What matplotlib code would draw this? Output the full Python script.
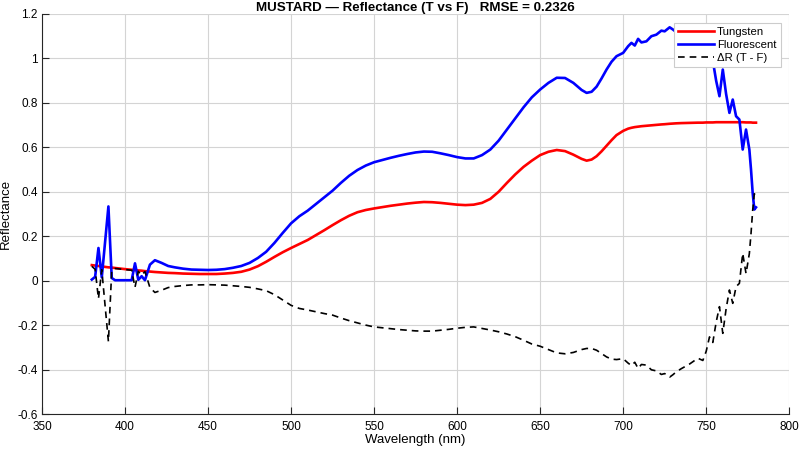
import numpy as np
import matplotlib
matplotlib.use('Agg')
import matplotlib.pyplot as plt
from matplotlib.ticker import FuncFormatter

plt.rcParams['font.family'] = ['Liberation Sans', 'DejaVu Sans']

# wavelength grid (nm) shared by both illuminants
wl = [380, 382, 384, 386, 390, 392, 394, 400, 404, 406, 408, 410, 412, 415, 418,
      422, 426, 430, 435, 440, 445, 450, 455, 460, 465, 470, 475, 480, 485, 490,
      495, 500, 505, 510, 515, 520, 525, 530, 535, 540, 545, 550, 555, 560, 565,
      570, 575, 580, 585, 590, 595, 600, 605, 610, 615, 620, 625, 630, 635, 640,
      645, 650, 655, 660, 665, 670, 675, 678, 681, 684, 687, 690, 693, 696, 700,
      703, 705, 707, 709, 711, 714, 717, 720, 723, 725, 728, 730, 732, 735, 740,
      745, 748, 750, 752, 754, 756, 758, 760, 762, 764, 766, 768, 770, 772, 774,
      776, 777, 778, 779, 780]

# Tungsten reflectance
tungsten = [0.070, 0.068, 0.066, 0.064, 0.060, 0.059, 0.057, 0.052, 0.049, 0.048,
            0.046, 0.045, 0.043, 0.041, 0.039, 0.037, 0.035, 0.034, 0.032, 0.031,
            0.030, 0.030, 0.030, 0.032, 0.035, 0.040, 0.050, 0.065, 0.085, 0.107,
            0.128, 0.147, 0.165, 0.183, 0.205, 0.227, 0.250, 0.272, 0.292, 0.308,
            0.318, 0.325, 0.331, 0.337, 0.342, 0.347, 0.351, 0.354, 0.353, 0.350,
            0.346, 0.342, 0.340, 0.342, 0.350, 0.368, 0.400, 0.440, 0.478, 0.512,
            0.540, 0.565, 0.580, 0.588, 0.583, 0.567, 0.548, 0.540, 0.545, 0.560,
            0.582, 0.607, 0.632, 0.655, 0.674, 0.684, 0.688, 0.691, 0.693, 0.695,
            0.697, 0.699, 0.701, 0.703, 0.704, 0.706, 0.707, 0.708, 0.709, 0.710,
            0.711, 0.711, 0.712, 0.712, 0.712, 0.713, 0.713, 0.713, 0.713, 0.713,
            0.713, 0.713, 0.713, 0.713, 0.712, 0.712, 0.712, 0.711, 0.711, 0.711]

# Fluorescent reflectance
fluorescent = [0.005, 0.017, 0.147, 0.015, 0.334, 0.012, 0.002, 0.002, 0.002, 0.078,
               0.004, 0.020, 0.002, 0.072, 0.092, 0.080, 0.066, 0.060, 0.054, 0.050,
               0.049, 0.048, 0.049, 0.052, 0.058, 0.066, 0.080, 0.102, 0.130, 0.170,
               0.215, 0.258, 0.290, 0.315, 0.345, 0.375, 0.405, 0.440, 0.472, 0.498,
               0.518, 0.533, 0.543, 0.553, 0.562, 0.570, 0.577, 0.581, 0.580, 0.573,
               0.565, 0.556, 0.550, 0.550, 0.565, 0.590, 0.630, 0.680, 0.730, 0.780,
               0.825, 0.860, 0.890, 0.913, 0.912, 0.890, 0.858, 0.845, 0.850, 0.873,
               0.910, 0.950, 0.985, 1.010, 1.025, 1.055, 1.070, 1.058, 1.088, 1.072,
               1.077, 1.100, 1.107, 1.125, 1.122, 1.140, 1.130, 1.118, 1.105, 1.085,
               1.060, 1.070, 1.030, 0.965, 0.990, 0.900, 0.830, 0.950, 0.840, 0.755,
               0.815, 0.740, 0.725, 0.590, 0.680, 0.590, 0.500, 0.395, 0.320, 0.330]

wl = np.array(wl)
tungsten = np.array(tungsten)
fluorescent = np.array(fluorescent)
delta = tungsten - fluorescent

fig = plt.figure(figsize=(8, 4.51), dpi=100)
ax = fig.add_axes([0.0525, 0.082, 0.934, 0.887])

ax.plot(wl, tungsten, color='red', lw=1.9, label='Tungsten')
ax.plot(wl, fluorescent, color='blue', lw=1.9, label='Fluorescent')
ax.plot(wl, delta, color='black', lw=1.2, ls=(0, (4, 3)), label='ΔR (T - F)')

ax.set_xlim(350, 800)
ax.set_ylim(-0.6, 1.2)
ax.set_xticks(np.arange(350, 801, 50))
ax.set_yticks(np.arange(-0.6, 1.21, 0.2))
ax.yaxis.set_major_formatter(FuncFormatter(lambda v, p: f'{round(v, 1):g}'))
ax.grid(True, color='#d4d4d4', lw=0.8)
ax.set_axisbelow(True)
for s in ['top', 'right']:
    ax.spines[s].set_visible(False)
for s in ['left', 'bottom']:
    ax.spines[s].set_color('#262626')
    ax.spines[s].set_linewidth(0.8)
ax.tick_params(direction='in', length=5, width=0.8, labelsize=8.5, colors='#262626',
               labelcolor='black')
ax.tick_params(axis='x', pad=5)
ax.tick_params(axis='y', pad=3)

ax.set_xlabel('Wavelength (nm)', fontsize=9.5, labelpad=1)
ax.set_ylabel('Reflectance', fontsize=9.5, labelpad=4)
ax.set_title('MUSTARD — Reflectance (T vs F)   RMSE = 0.2326', fontsize=9.6,
             fontweight='bold', pad=1.5)

leg = ax.legend(loc='upper right', fontsize=8.2, frameon=True, fancybox=False,
                edgecolor='#cccccc', framealpha=1, handlelength=3.1,
                handletextpad=0.3, borderpad=0.35, labelspacing=0.3,
                borderaxespad=0.75)
leg.get_frame().set_linewidth(0.8)

fig.savefig('out.png', dpi=100)
